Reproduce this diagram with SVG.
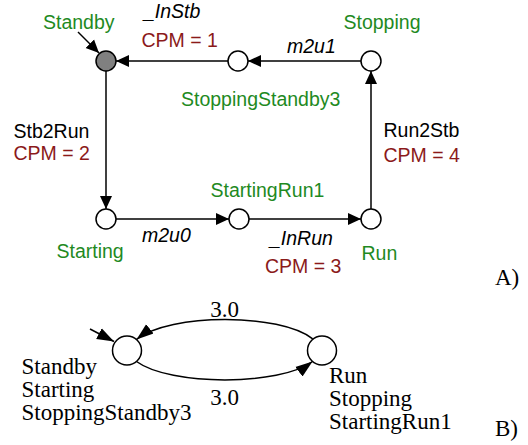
<svg xmlns="http://www.w3.org/2000/svg" width="528" height="445" viewBox="0 0 528 445">
<defs>
<style>
.sans{font-family:"Liberation Sans",Arial,sans-serif;font-size:19.5px}
.serif{font-family:"Liberation Serif","Times New Roman",serif;font-size:23px;fill:#000}
.g{fill:#1f8a1f}
.r{fill:#8b1a1a}
.k{fill:#000}
.i{font-style:italic}
.edge{fill:none;stroke:#000;stroke-width:1.5}
.node{fill:#fff;stroke:#000;stroke-width:1.5}
</style>
<marker id="ah" markerUnits="userSpaceOnUse" markerWidth="14" markerHeight="14" viewBox="0 0 14 14" refX="13" refY="7" orient="auto">
<path d="M0,1 L13,7 L0,13 Z" fill="#000"/>
</marker>
<marker id="ahb" markerUnits="userSpaceOnUse" markerWidth="18" markerHeight="14" viewBox="0 0 18 14" refX="17" refY="7" orient="auto">
<path d="M0,1 L17,7 L0,13 Z" fill="#000"/>
</marker>
</defs>
<rect width="528" height="445" fill="#fff"/>

<g id="connectors">
<line class="edge" x1="361" y1="61" x2="248" y2="61" marker-end="url(#ah)"/>
<line class="edge" x1="228" y1="61" x2="116" y2="61" marker-end="url(#ah)"/>
<line class="edge" x1="106" y1="71" x2="106" y2="209" marker-end="url(#ah)"/>
<line class="edge" x1="116" y1="219" x2="229" y2="219" marker-end="url(#ah)"/>
<line class="edge" x1="249" y1="219" x2="361" y2="219" marker-end="url(#ah)"/>
<line class="edge" x1="371" y1="209" x2="371" y2="71" marker-end="url(#ah)"/>
<line class="edge" x1="78" y1="32" x2="99" y2="53" marker-end="url(#ah)"/>
<path class="edge" d="M312.7,338.9 C280,313 170,313 136.5,339.4" marker-end="url(#ahb)"/>
<path class="edge" d="M136.5,361.5 C170,386 280,386 312.5,361.5" marker-end="url(#ahb)"/>
<line class="edge" x1="90" y1="329" x2="114" y2="341.5" marker-end="url(#ahb)"/>
<text class="serif" x="224.5" y="317" text-anchor="middle">3.0</text>
<text class="serif" x="224.5" y="405" text-anchor="middle">3.0</text>
<text class="sans k i" x="144" y="18">_InStb</text>
<text class="sans r" x="141.5" y="47">CPM = 1</text>
<text class="sans k i" x="287" y="53">m2u1</text>
<text class="sans k" x="13.5" y="137.5">Stb2Run</text>
<text class="sans r" x="13.5" y="160">CPM = 2</text>
<text class="sans k" x="383.5" y="137">Run2Stb</text>
<text class="sans r" x="383.5" y="161.5">CPM = 4</text>
<text class="sans k i" x="142" y="241.5">m2u0</text>
<text class="sans k i" x="270" y="245">_InRun</text>
<text class="sans r" x="265" y="273">CPM = 3</text>
</g>

<g id="standby">
<circle cx="106" cy="61" r="10" fill="#808080" stroke="#000" stroke-width="1.5"/>
<text class="sans g" x="43" y="29">Standby</text>
</g>
<g id="stoppingstandby3">
<circle class="node" cx="238" cy="61" r="10"/>
<text class="sans g" x="181" y="106">StoppingStandby3</text>
</g>
<g id="stopping">
<circle class="node" cx="371" cy="61" r="10"/>
<text class="sans g" x="343.5" y="29">Stopping</text>
</g>
<g id="starting">
<circle class="node" cx="106" cy="219" r="10"/>
<text class="sans g" x="56.5" y="258">Starting</text>
</g>
<g id="startingrun1">
<circle class="node" cx="239" cy="219" r="10"/>
<text class="sans g" x="210.5" y="197">StartingRun1</text>
</g>
<g id="run">
<circle class="node" cx="371" cy="219" r="10"/>
<text class="sans g" x="361.5" y="260">Run</text>
</g>

<g id="label-a">
<text class="serif" x="495" y="285">A)</text>
</g>

<g id="b-left">
<circle class="node" cx="127" cy="350.5" r="14.5"/>
<text class="serif" x="21.5" y="374">Standby</text>
<text class="serif" x="21.5" y="397">Starting</text>
<text class="serif" x="21.5" y="420">StoppingStandby3</text>
</g>
<g id="b-right">
<circle class="node" cx="322" cy="350.5" r="14.5"/>
<text class="serif" x="329" y="383">Run</text>
<text class="serif" x="329" y="406">Stopping</text>
<text class="serif" x="329" y="429">StartingRun1</text>
</g>
<g id="label-b">
<text class="serif" x="495" y="436">B)</text>
</g>
</svg>
